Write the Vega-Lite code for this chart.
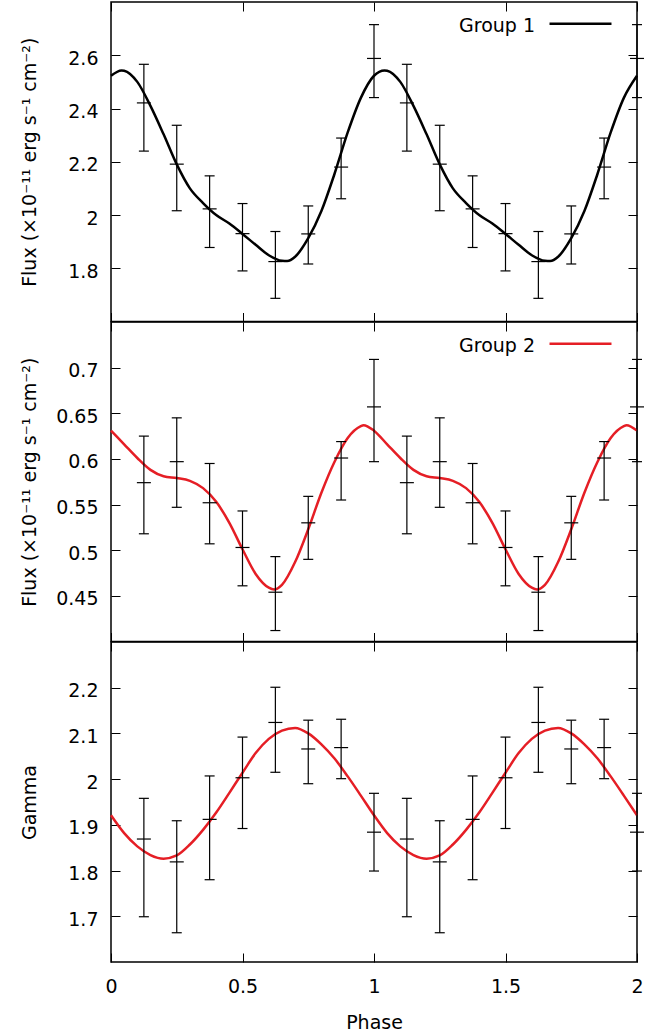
{
  "$schema": "https://vega.github.io/schema/vega-lite/v6.json",
  "padding": {"left": 19, "top": 0, "right": 5, "bottom": 0},
  "background": "white",
  "spacing": 0,
  "bounds": "flush",
  "resolve": {"scale": {"color": "independent"}},
  "config": {
    "font": "DejaVu Sans",
    "view": {"stroke": "black", "strokeWidth": 1.5},
    "axis": {"domain": false, "grid": false, "ticks": true, "tickColor": "black", "tickWidth": 1, "tickSize": -9, "labelFontSize": 19, "labelColor": "black", "labelFont": "DejaVu Sans", "titleFont": "DejaVu Sans", "titleFontSize": 19, "titleFontWeight": "normal", "titleColor": "black", "labelFlush": false, "labelOverlap": false},
    "axisLeft": {"labelPadding": 22, "labelOffset": 3, "titleX": -72, "titleBaseline": "bottom", "titleAngle": 270},
    "axisBottom": {"labelPadding": 24, "titlePadding": 17},
    "legend": {"orient": "top-right", "offset": 20, "padding": 0, "symbolType": "M-4,-1H4", "symbolSize": 240, "symbolStrokeWidth": 2.5, "labelFontSize": 19, "labelFont": "DejaVu Sans", "labelColor": "black", "labelAlign": "right", "labelBaseline": "alphabetic", "labelOffset": -55}
  },
  "datasets": {
    "pts": [
      {"panel": "p1", "phase": 0.125, "val": 2.421, "lo": 2.240, "hi": 2.566},
      {"panel": "p1", "phase": 0.25, "val": 2.191, "lo": 2.016, "hi": 2.337},
      {"panel": "p1", "phase": 0.375, "val": 2.023, "lo": 1.878, "hi": 2.147},
      {"panel": "p1", "phase": 0.5, "val": 1.930, "lo": 1.790, "hi": 2.043},
      {"panel": "p1", "phase": 0.625, "val": 1.825, "lo": 1.687, "hi": 1.938},
      {"panel": "p1", "phase": 0.75, "val": 1.929, "lo": 1.816, "hi": 2.034},
      {"panel": "p1", "phase": 0.875, "val": 2.180, "lo": 2.061, "hi": 2.289},
      {"panel": "p1", "phase": 1.0, "val": 2.588, "lo": 2.441, "hi": 2.715},
      {"panel": "p1", "phase": 1.125, "val": 2.421, "lo": 2.240, "hi": 2.566},
      {"panel": "p1", "phase": 1.25, "val": 2.191, "lo": 2.016, "hi": 2.337},
      {"panel": "p1", "phase": 1.375, "val": 2.023, "lo": 1.878, "hi": 2.147},
      {"panel": "p1", "phase": 1.5, "val": 1.930, "lo": 1.790, "hi": 2.043},
      {"panel": "p1", "phase": 1.625, "val": 1.825, "lo": 1.687, "hi": 1.938},
      {"panel": "p1", "phase": 1.75, "val": 1.929, "lo": 1.816, "hi": 2.034},
      {"panel": "p1", "phase": 1.875, "val": 2.180, "lo": 2.061, "hi": 2.289},
      {"panel": "p1", "phase": 2.0, "val": 2.588, "lo": 2.441, "hi": 2.715},
      {"panel": "p2", "phase": 0.125, "val": 0.574, "lo": 0.518, "hi": 0.625},
      {"panel": "p2", "phase": 0.25, "val": 0.597, "lo": 0.547, "hi": 0.645},
      {"panel": "p2", "phase": 0.375, "val": 0.552, "lo": 0.507, "hi": 0.595},
      {"panel": "p2", "phase": 0.5, "val": 0.503, "lo": 0.461, "hi": 0.543},
      {"panel": "p2", "phase": 0.625, "val": 0.454, "lo": 0.412, "hi": 0.493},
      {"panel": "p2", "phase": 0.75, "val": 0.530, "lo": 0.490, "hi": 0.559},
      {"panel": "p2", "phase": 0.875, "val": 0.601, "lo": 0.555, "hi": 0.619},
      {"panel": "p2", "phase": 1.0, "val": 0.657, "lo": 0.597, "hi": 0.709},
      {"panel": "p2", "phase": 1.125, "val": 0.574, "lo": 0.518, "hi": 0.625},
      {"panel": "p2", "phase": 1.25, "val": 0.597, "lo": 0.547, "hi": 0.645},
      {"panel": "p2", "phase": 1.375, "val": 0.552, "lo": 0.507, "hi": 0.595},
      {"panel": "p2", "phase": 1.5, "val": 0.503, "lo": 0.461, "hi": 0.543},
      {"panel": "p2", "phase": 1.625, "val": 0.454, "lo": 0.412, "hi": 0.493},
      {"panel": "p2", "phase": 1.75, "val": 0.530, "lo": 0.490, "hi": 0.559},
      {"panel": "p2", "phase": 1.875, "val": 0.601, "lo": 0.555, "hi": 0.619},
      {"panel": "p2", "phase": 2.0, "val": 0.657, "lo": 0.597, "hi": 0.709},
      {"panel": "p3", "phase": 0.125, "val": 1.869, "lo": 1.699, "hi": 1.958},
      {"panel": "p3", "phase": 0.25, "val": 1.819, "lo": 1.664, "hi": 1.909},
      {"panel": "p3", "phase": 0.375, "val": 1.912, "lo": 1.780, "hi": 2.007},
      {"panel": "p3", "phase": 0.5, "val": 2.003, "lo": 1.892, "hi": 2.092},
      {"panel": "p3", "phase": 0.625, "val": 2.124, "lo": 2.015, "hi": 2.201},
      {"panel": "p3", "phase": 0.75, "val": 2.066, "lo": 1.990, "hi": 2.129},
      {"panel": "p3", "phase": 0.875, "val": 2.069, "lo": 2.001, "hi": 2.131},
      {"panel": "p3", "phase": 1.0, "val": 1.884, "lo": 1.799, "hi": 1.969},
      {"panel": "p3", "phase": 1.125, "val": 1.869, "lo": 1.699, "hi": 1.958},
      {"panel": "p3", "phase": 1.25, "val": 1.819, "lo": 1.664, "hi": 1.909},
      {"panel": "p3", "phase": 1.375, "val": 1.912, "lo": 1.780, "hi": 2.007},
      {"panel": "p3", "phase": 1.5, "val": 2.003, "lo": 1.892, "hi": 2.092},
      {"panel": "p3", "phase": 1.625, "val": 2.124, "lo": 2.015, "hi": 2.201},
      {"panel": "p3", "phase": 1.75, "val": 2.066, "lo": 1.990, "hi": 2.129},
      {"panel": "p3", "phase": 1.875, "val": 2.069, "lo": 2.001, "hi": 2.131},
      {"panel": "p3", "phase": 2.0, "val": 1.884, "lo": 1.799, "hi": 1.969}
    ],
    "curve": [
      {"panel": "p1", "group": "Group 1", "phase": 0.0, "val": 2.523},
      {"panel": "p1", "group": "Group 1", "phase": 0.04, "val": 2.543},
      {"panel": "p1", "group": "Group 1", "phase": 0.05, "val": 2.542},
      {"panel": "p1", "group": "Group 1", "phase": 0.1, "val": 2.500},
      {"panel": "p1", "group": "Group 1", "phase": 0.15, "val": 2.410},
      {"panel": "p1", "group": "Group 1", "phase": 0.2, "val": 2.303},
      {"panel": "p1", "group": "Group 1", "phase": 0.25, "val": 2.190},
      {"panel": "p1", "group": "Group 1", "phase": 0.3, "val": 2.100},
      {"panel": "p1", "group": "Group 1", "phase": 0.35, "val": 2.045},
      {"panel": "p1", "group": "Group 1", "phase": 0.4, "val": 2.000},
      {"panel": "p1", "group": "Group 1", "phase": 0.45, "val": 1.968},
      {"panel": "p1", "group": "Group 1", "phase": 0.5, "val": 1.929},
      {"panel": "p1", "group": "Group 1", "phase": 0.55, "val": 1.888},
      {"panel": "p1", "group": "Group 1", "phase": 0.6, "val": 1.849},
      {"panel": "p1", "group": "Group 1", "phase": 0.65, "val": 1.828},
      {"panel": "p1", "group": "Group 1", "phase": 0.67, "val": 1.827},
      {"panel": "p1", "group": "Group 1", "phase": 0.7, "val": 1.843},
      {"panel": "p1", "group": "Group 1", "phase": 0.75, "val": 1.913},
      {"panel": "p1", "group": "Group 1", "phase": 0.8, "val": 2.015},
      {"panel": "p1", "group": "Group 1", "phase": 0.85, "val": 2.155},
      {"panel": "p1", "group": "Group 1", "phase": 0.9, "val": 2.310},
      {"panel": "p1", "group": "Group 1", "phase": 0.95, "val": 2.440},
      {"panel": "p1", "group": "Group 1", "phase": 1.0, "val": 2.523},
      {"panel": "p1", "group": "Group 1", "phase": 1.04, "val": 2.543},
      {"panel": "p1", "group": "Group 1", "phase": 1.05, "val": 2.542},
      {"panel": "p1", "group": "Group 1", "phase": 1.1, "val": 2.500},
      {"panel": "p1", "group": "Group 1", "phase": 1.15, "val": 2.410},
      {"panel": "p1", "group": "Group 1", "phase": 1.2, "val": 2.303},
      {"panel": "p1", "group": "Group 1", "phase": 1.25, "val": 2.190},
      {"panel": "p1", "group": "Group 1", "phase": 1.3, "val": 2.100},
      {"panel": "p1", "group": "Group 1", "phase": 1.35, "val": 2.045},
      {"panel": "p1", "group": "Group 1", "phase": 1.4, "val": 2.000},
      {"panel": "p1", "group": "Group 1", "phase": 1.45, "val": 1.968},
      {"panel": "p1", "group": "Group 1", "phase": 1.5, "val": 1.929},
      {"panel": "p1", "group": "Group 1", "phase": 1.55, "val": 1.888},
      {"panel": "p1", "group": "Group 1", "phase": 1.6, "val": 1.849},
      {"panel": "p1", "group": "Group 1", "phase": 1.65, "val": 1.828},
      {"panel": "p1", "group": "Group 1", "phase": 1.67, "val": 1.827},
      {"panel": "p1", "group": "Group 1", "phase": 1.7, "val": 1.843},
      {"panel": "p1", "group": "Group 1", "phase": 1.75, "val": 1.913},
      {"panel": "p1", "group": "Group 1", "phase": 1.8, "val": 2.015},
      {"panel": "p1", "group": "Group 1", "phase": 1.85, "val": 2.155},
      {"panel": "p1", "group": "Group 1", "phase": 1.9, "val": 2.310},
      {"panel": "p1", "group": "Group 1", "phase": 1.95, "val": 2.440},
      {"panel": "p1", "group": "Group 1", "phase": 2.0, "val": 2.523},
      {"panel": "p2", "group": "Group 2", "phase": 0.0, "val": 0.631},
      {"panel": "p2", "group": "Group 2", "phase": 0.05, "val": 0.616},
      {"panel": "p2", "group": "Group 2", "phase": 0.1, "val": 0.601},
      {"panel": "p2", "group": "Group 2", "phase": 0.15, "val": 0.588},
      {"panel": "p2", "group": "Group 2", "phase": 0.2, "val": 0.581},
      {"panel": "p2", "group": "Group 2", "phase": 0.25, "val": 0.579},
      {"panel": "p2", "group": "Group 2", "phase": 0.3, "val": 0.576},
      {"panel": "p2", "group": "Group 2", "phase": 0.35, "val": 0.568},
      {"panel": "p2", "group": "Group 2", "phase": 0.4, "val": 0.553},
      {"panel": "p2", "group": "Group 2", "phase": 0.45, "val": 0.530},
      {"panel": "p2", "group": "Group 2", "phase": 0.5, "val": 0.501},
      {"panel": "p2", "group": "Group 2", "phase": 0.55, "val": 0.474},
      {"panel": "p2", "group": "Group 2", "phase": 0.6, "val": 0.459},
      {"panel": "p2", "group": "Group 2", "phase": 0.62, "val": 0.457},
      {"panel": "p2", "group": "Group 2", "phase": 0.65, "val": 0.462},
      {"panel": "p2", "group": "Group 2", "phase": 0.7, "val": 0.487},
      {"panel": "p2", "group": "Group 2", "phase": 0.75, "val": 0.523},
      {"panel": "p2", "group": "Group 2", "phase": 0.8, "val": 0.563},
      {"panel": "p2", "group": "Group 2", "phase": 0.85, "val": 0.597},
      {"panel": "p2", "group": "Group 2", "phase": 0.9, "val": 0.623},
      {"panel": "p2", "group": "Group 2", "phase": 0.95, "val": 0.636},
      {"panel": "p2", "group": "Group 2", "phase": 0.96, "val": 0.637},
      {"panel": "p2", "group": "Group 2", "phase": 1.0, "val": 0.631},
      {"panel": "p2", "group": "Group 2", "phase": 1.05, "val": 0.616},
      {"panel": "p2", "group": "Group 2", "phase": 1.1, "val": 0.601},
      {"panel": "p2", "group": "Group 2", "phase": 1.15, "val": 0.588},
      {"panel": "p2", "group": "Group 2", "phase": 1.2, "val": 0.581},
      {"panel": "p2", "group": "Group 2", "phase": 1.25, "val": 0.579},
      {"panel": "p2", "group": "Group 2", "phase": 1.3, "val": 0.576},
      {"panel": "p2", "group": "Group 2", "phase": 1.35, "val": 0.568},
      {"panel": "p2", "group": "Group 2", "phase": 1.4, "val": 0.553},
      {"panel": "p2", "group": "Group 2", "phase": 1.45, "val": 0.530},
      {"panel": "p2", "group": "Group 2", "phase": 1.5, "val": 0.501},
      {"panel": "p2", "group": "Group 2", "phase": 1.55, "val": 0.474},
      {"panel": "p2", "group": "Group 2", "phase": 1.6, "val": 0.459},
      {"panel": "p2", "group": "Group 2", "phase": 1.62, "val": 0.457},
      {"panel": "p2", "group": "Group 2", "phase": 1.65, "val": 0.462},
      {"panel": "p2", "group": "Group 2", "phase": 1.7, "val": 0.487},
      {"panel": "p2", "group": "Group 2", "phase": 1.75, "val": 0.523},
      {"panel": "p2", "group": "Group 2", "phase": 1.8, "val": 0.563},
      {"panel": "p2", "group": "Group 2", "phase": 1.85, "val": 0.597},
      {"panel": "p2", "group": "Group 2", "phase": 1.9, "val": 0.623},
      {"panel": "p2", "group": "Group 2", "phase": 1.95, "val": 0.636},
      {"panel": "p2", "group": "Group 2", "phase": 1.96, "val": 0.637},
      {"panel": "p2", "group": "Group 2", "phase": 2.0, "val": 0.631},
      {"panel": "p3", "group": "Group 3", "phase": 0.0, "val": 1.921},
      {"panel": "p3", "group": "Group 3", "phase": 0.05, "val": 1.882},
      {"panel": "p3", "group": "Group 3", "phase": 0.1, "val": 1.853},
      {"panel": "p3", "group": "Group 3", "phase": 0.15, "val": 1.834},
      {"panel": "p3", "group": "Group 3", "phase": 0.2, "val": 1.826},
      {"panel": "p3", "group": "Group 3", "phase": 0.25, "val": 1.833},
      {"panel": "p3", "group": "Group 3", "phase": 0.3, "val": 1.857},
      {"panel": "p3", "group": "Group 3", "phase": 0.35, "val": 1.889},
      {"panel": "p3", "group": "Group 3", "phase": 0.4, "val": 1.927},
      {"panel": "p3", "group": "Group 3", "phase": 0.45, "val": 1.970},
      {"panel": "p3", "group": "Group 3", "phase": 0.5, "val": 2.014},
      {"panel": "p3", "group": "Group 3", "phase": 0.55, "val": 2.057},
      {"panel": "p3", "group": "Group 3", "phase": 0.6, "val": 2.088},
      {"panel": "p3", "group": "Group 3", "phase": 0.65, "val": 2.106},
      {"panel": "p3", "group": "Group 3", "phase": 0.7, "val": 2.112},
      {"panel": "p3", "group": "Group 3", "phase": 0.75, "val": 2.100},
      {"panel": "p3", "group": "Group 3", "phase": 0.8, "val": 2.076},
      {"panel": "p3", "group": "Group 3", "phase": 0.85, "val": 2.045},
      {"panel": "p3", "group": "Group 3", "phase": 0.9, "val": 2.006},
      {"panel": "p3", "group": "Group 3", "phase": 0.95, "val": 1.964},
      {"panel": "p3", "group": "Group 3", "phase": 1.0, "val": 1.921},
      {"panel": "p3", "group": "Group 3", "phase": 1.05, "val": 1.882},
      {"panel": "p3", "group": "Group 3", "phase": 1.1, "val": 1.853},
      {"panel": "p3", "group": "Group 3", "phase": 1.15, "val": 1.834},
      {"panel": "p3", "group": "Group 3", "phase": 1.2, "val": 1.826},
      {"panel": "p3", "group": "Group 3", "phase": 1.25, "val": 1.833},
      {"panel": "p3", "group": "Group 3", "phase": 1.3, "val": 1.857},
      {"panel": "p3", "group": "Group 3", "phase": 1.35, "val": 1.889},
      {"panel": "p3", "group": "Group 3", "phase": 1.4, "val": 1.927},
      {"panel": "p3", "group": "Group 3", "phase": 1.45, "val": 1.970},
      {"panel": "p3", "group": "Group 3", "phase": 1.5, "val": 2.014},
      {"panel": "p3", "group": "Group 3", "phase": 1.55, "val": 2.057},
      {"panel": "p3", "group": "Group 3", "phase": 1.6, "val": 2.088},
      {"panel": "p3", "group": "Group 3", "phase": 1.65, "val": 2.106},
      {"panel": "p3", "group": "Group 3", "phase": 1.7, "val": 2.112},
      {"panel": "p3", "group": "Group 3", "phase": 1.75, "val": 2.100},
      {"panel": "p3", "group": "Group 3", "phase": 1.8, "val": 2.076},
      {"panel": "p3", "group": "Group 3", "phase": 1.85, "val": 2.045},
      {"panel": "p3", "group": "Group 3", "phase": 1.9, "val": 2.006},
      {"panel": "p3", "group": "Group 3", "phase": 1.95, "val": 1.964},
      {"panel": "p3", "group": "Group 3", "phase": 2.0, "val": 1.921}
    ]
  },
  "vconcat": [
    {
      "width": 526, "height": 319.5,
      "layer": [
        {
          "data": {"name": "curve"},
          "transform": [{"filter": "datum.panel == 'p1'"}],
          "mark": {"type": "line", "interpolate": "monotone", "strokeWidth": 2.5},
          "encoding": {
            "x": {"field": "phase", "type": "quantitative", "scale": {"domain": [0, 2], "nice": false, "zero": false}, "axis": {"orient": "bottom", "values": [0, 0.5, 1, 1.5, 2], "labels": false, "title": null}},
            "y": {"field": "val", "type": "quantitative", "scale": {"domain": [1.6, 2.8], "nice": false, "zero": false}, "axis": {"orient": "left", "values": [1.8, 2, 2.2, 2.4, 2.6], "format": "~g", "title": "Flux (×10⁻¹¹ erg s⁻¹ cm⁻²)"}},
            "color": {"field": "group", "type": "nominal", "scale": {"domain": ["Group 1"], "range": ["black"]}, "legend": {"title": null}}
          }
        },
        {
          "data": {"name": "pts"},
          "transform": [{"filter": "datum.panel == 'p1'"}],
          "mark": {"type": "rule", "color": "black", "strokeWidth": 1.2},
          "encoding": {
            "x": {"field": "phase", "type": "quantitative", "axis": {"orient": "top", "values": [0, 0.5, 1, 1.5, 2], "labels": false, "title": null}},
            "y": {"field": "lo", "type": "quantitative", "axis": {"orient": "right", "values": [1.8, 2, 2.2, 2.4, 2.6], "labels": false, "title": null}},
            "y2": {"field": "hi"}
          }
        },
        {
          "data": {"name": "pts"},
          "transform": [{"filter": "datum.panel == 'p1'"}, {"fold": ["lo", "hi"], "as": ["k", "cap"]}],
          "mark": {"type": "point", "shape": "M-1,0L1,0", "filled": false, "stroke": "black", "strokeWidth": 1.2, "size": 100, "opacity": 1},
          "encoding": {
            "x": {"field": "phase", "type": "quantitative", "axis": null},
            "y": {"field": "cap", "type": "quantitative", "axis": null}
          }
        },
        {
          "data": {"name": "pts"},
          "transform": [{"filter": "datum.panel == 'p1'"}],
          "mark": {"type": "point", "shape": "M-1,0L1,0", "filled": false, "stroke": "black", "strokeWidth": 1.2, "size": 196, "opacity": 1},
          "encoding": {
            "x": {"field": "phase", "type": "quantitative", "axis": null},
            "y": {"field": "val", "type": "quantitative", "axis": null}
          }
        }
      ],
      "resolve": {"axis": {"x": "independent", "y": "independent"}}
    },
    {
      "width": 526, "height": 319.5,
      "layer": [
        {
          "data": {"name": "curve"},
          "transform": [{"filter": "datum.panel == 'p2'"}],
          "mark": {"type": "line", "interpolate": "monotone", "strokeWidth": 2.5},
          "encoding": {
            "x": {"field": "phase", "type": "quantitative", "scale": {"domain": [0, 2], "nice": false, "zero": false}, "axis": {"orient": "bottom", "values": [0, 0.5, 1, 1.5, 2], "labels": false, "title": null}},
            "y": {"field": "val", "type": "quantitative", "scale": {"domain": [0.4, 0.75], "nice": false, "zero": false}, "axis": {"orient": "left", "values": [0.45, 0.5, 0.55, 0.6, 0.65, 0.7], "format": "~g", "title": "Flux (×10⁻¹¹ erg s⁻¹ cm⁻²)"}},
            "color": {"field": "group", "type": "nominal", "scale": {"domain": ["Group 2"], "range": ["#e51e25"]}, "legend": {"title": null}}
          }
        },
        {
          "data": {"name": "pts"},
          "transform": [{"filter": "datum.panel == 'p2'"}],
          "mark": {"type": "rule", "color": "black", "strokeWidth": 1.2},
          "encoding": {
            "x": {"field": "phase", "type": "quantitative", "axis": {"orient": "top", "values": [0, 0.5, 1, 1.5, 2], "labels": false, "title": null}},
            "y": {"field": "lo", "type": "quantitative", "axis": {"orient": "right", "values": [0.45, 0.5, 0.55, 0.6, 0.65, 0.7], "labels": false, "title": null}},
            "y2": {"field": "hi"}
          }
        },
        {
          "data": {"name": "pts"},
          "transform": [{"filter": "datum.panel == 'p2'"}, {"fold": ["lo", "hi"], "as": ["k", "cap"]}],
          "mark": {"type": "point", "shape": "M-1,0L1,0", "filled": false, "stroke": "black", "strokeWidth": 1.2, "size": 100, "opacity": 1},
          "encoding": {
            "x": {"field": "phase", "type": "quantitative", "axis": null},
            "y": {"field": "cap", "type": "quantitative", "axis": null}
          }
        },
        {
          "data": {"name": "pts"},
          "transform": [{"filter": "datum.panel == 'p2'"}],
          "mark": {"type": "point", "shape": "M-1,0L1,0", "filled": false, "stroke": "black", "strokeWidth": 1.2, "size": 196, "opacity": 1},
          "encoding": {
            "x": {"field": "phase", "type": "quantitative", "axis": null},
            "y": {"field": "val", "type": "quantitative", "axis": null}
          }
        }
      ],
      "resolve": {"axis": {"x": "independent", "y": "independent"}}
    },
    {
      "width": 526, "height": 320,
      "layer": [
        {
          "data": {"name": "curve"},
          "transform": [{"filter": "datum.panel == 'p3'"}],
          "mark": {"type": "line", "interpolate": "monotone", "strokeWidth": 2.5, "color": "#e51e25"},
          "encoding": {
            "x": {"field": "phase", "type": "quantitative", "scale": {"domain": [0, 2], "nice": false, "zero": false}, "axis": {"orient": "bottom", "values": [0, 0.5, 1, 1.5, 2], "format": "~g", "title": "Phase"}},
            "y": {"field": "val", "type": "quantitative", "scale": {"domain": [1.6, 2.3], "nice": false, "zero": false}, "axis": {"orient": "left", "values": [1.7, 1.8, 1.9, 2, 2.1, 2.2], "format": "~g", "title": "Gamma"}}
          }
        },
        {
          "data": {"name": "pts"},
          "transform": [{"filter": "datum.panel == 'p3'"}],
          "mark": {"type": "rule", "color": "black", "strokeWidth": 1.2},
          "encoding": {
            "x": {"field": "phase", "type": "quantitative", "axis": {"orient": "top", "values": [0, 0.5, 1, 1.5, 2], "labels": false, "title": null}},
            "y": {"field": "lo", "type": "quantitative", "axis": {"orient": "right", "values": [1.7, 1.8, 1.9, 2, 2.1, 2.2], "labels": false, "title": null}},
            "y2": {"field": "hi"}
          }
        },
        {
          "data": {"name": "pts"},
          "transform": [{"filter": "datum.panel == 'p3'"}, {"fold": ["lo", "hi"], "as": ["k", "cap"]}],
          "mark": {"type": "point", "shape": "M-1,0L1,0", "filled": false, "stroke": "black", "strokeWidth": 1.2, "size": 100, "opacity": 1},
          "encoding": {
            "x": {"field": "phase", "type": "quantitative", "axis": null},
            "y": {"field": "cap", "type": "quantitative", "axis": null}
          }
        },
        {
          "data": {"name": "pts"},
          "transform": [{"filter": "datum.panel == 'p3'"}],
          "mark": {"type": "point", "shape": "M-1,0L1,0", "filled": false, "stroke": "black", "strokeWidth": 1.2, "size": 196, "opacity": 1},
          "encoding": {
            "x": {"field": "phase", "type": "quantitative", "axis": null},
            "y": {"field": "val", "type": "quantitative", "axis": null}
          }
        }
      ],
      "resolve": {"axis": {"x": "independent", "y": "independent"}}
    }
  ]
}
